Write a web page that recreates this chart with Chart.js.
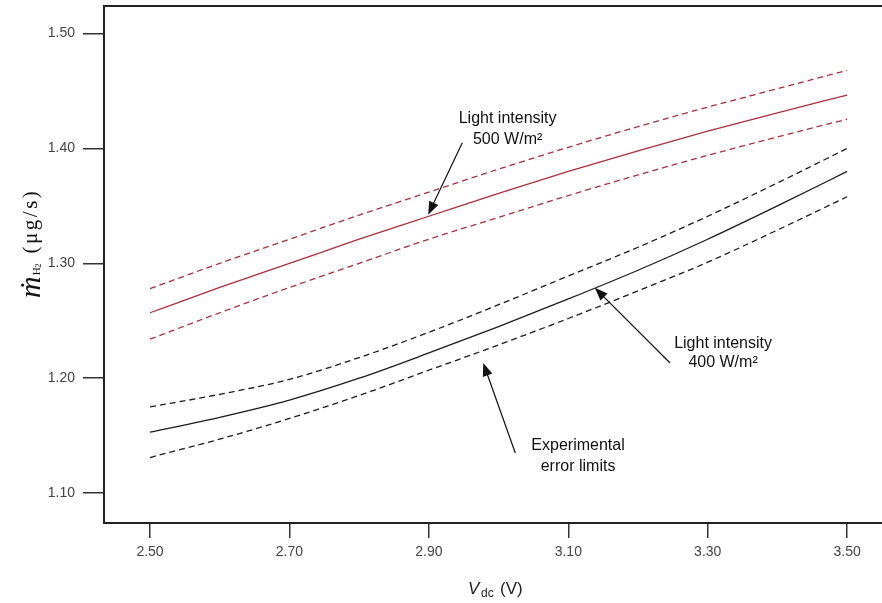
<!DOCTYPE html>
<html>
<head>
<meta charset="utf-8">
<script src="https://cdn.jsdelivr.net/npm/chart.js@4.4.1/dist/chart.umd.min.js"></script>
<style>
    html, body { margin: 0; padding: 0; background: #fff; }
    #wrap { width: 882px; height: 603px; }
</style>
</head>
<body>
<div id="wrap"><canvas id="grafico" width="882" height="603"></canvas></div>
<script>
// Tensión aplicada (V)
const voltages = [2.50, 2.60, 2.70, 2.80, 2.90, 3.00, 3.10, 3.20, 3.30, 3.40, 3.50];

// Intensidad 500 W/m2 (rojo)
const red500Mid   = [1.257, 1.279, 1.300, 1.321, 1.341, 1.361, 1.380, 1.398, 1.415, 1.431, 1.4465];
const red500Upper = [1.278, 1.300, 1.321, 1.342, 1.362, 1.382, 1.401, 1.419, 1.436, 1.452, 1.468];
const red500Lower = [1.234, 1.257, 1.279, 1.300, 1.321, 1.340, 1.359, 1.377, 1.394, 1.410, 1.4255];

// Intensidad 400 W/m2 (negro)
const black400Mid   = [1.153, 1.166, 1.181, 1.200, 1.222, 1.245, 1.269, 1.294, 1.321, 1.350, 1.380];
const black400Upper = [1.175, 1.186, 1.199, 1.218, 1.240, 1.264, 1.289, 1.314, 1.341, 1.370, 1.400];
const black400Lower = [1.131, 1.147, 1.165, 1.185, 1.207, 1.229, 1.252, 1.276, 1.301, 1.329, 1.358];

const xTicks = [2.50, 2.70, 2.90, 3.10, 3.30, 3.50];
const yTicks = [1.10, 1.20, 1.30, 1.40, 1.50];

// Anotaciones en coordenadas de datos
const notes = [
    { lines: ['Light intensity', '500 W/m²'], x: 3.013, y: [1.426, 1.4078], from: [2.948, 1.405], to: [2.899, 1.3424] },
    { lines: ['Light intensity', '400 W/m²'], x: 3.322, y: [1.230, 1.2133], from: [3.246, 1.2133], to: [3.138, 1.2787] },
    { lines: ['Experimental', 'error limits'], x: 3.114, y: [1.1418, 1.1235], from: [3.024, 1.1349], to: [2.978, 1.2133] }
];

const RED = '#ab2f3c';
const BLACK = '#1c1c1c';

function serie(values, color, dashed) {
    return {
        data: voltages.map((v, i) => ({ x: v, y: values[i] })),
        borderColor: color,
        borderWidth: 1.3,
        borderDash: dashed ? [6, 4] : [],
        pointRadius: 0,
        cubicInterpolationMode: 'monotone',
        fill: false
    };
}

function drawArrow(ctx, x1, y1, x2, y2) {
    const ang = Math.atan2(y2 - y1, x2 - x1);
    const len = 13, half = 5;
    ctx.beginPath();
    ctx.moveTo(x1, y1);
    ctx.lineTo(x2 - Math.cos(ang) * len * 0.8, y2 - Math.sin(ang) * len * 0.8);
    ctx.stroke();
    ctx.beginPath();
    ctx.moveTo(x2, y2);
    ctx.lineTo(x2 - Math.cos(ang) * len - Math.sin(ang) * half, y2 - Math.sin(ang) * len + Math.cos(ang) * half);
    ctx.lineTo(x2 - Math.cos(ang) * len + Math.sin(ang) * half, y2 - Math.sin(ang) * len - Math.cos(ang) * half);
    ctx.closePath();
    ctx.fill();
}

const extras = {
    id: 'extras',
    afterDraw(chart) {
        const ctx = chart.ctx;
        const area = chart.chartArea;
        const sx = chart.scales.x, sy = chart.scales.y;

        // borde superior
        ctx.save();
        ctx.strokeStyle = '#222';
        ctx.lineWidth = 2;
        ctx.beginPath();
        ctx.moveTo(area.left - 1, area.top);
        ctx.lineTo(area.right, area.top);
        ctx.stroke();

        // anotaciones
        ctx.fillStyle = '#111';
        ctx.strokeStyle = '#111';
        ctx.lineWidth = 1.2;
        ctx.font = '16px "Liberation Sans", Arial, sans-serif';
        ctx.textAlign = 'center';
        ctx.textBaseline = 'middle';
        notes.forEach(n => {
            n.lines.forEach((t, i) => ctx.fillText(t, sx.getPixelForValue(n.x), sy.getPixelForValue(n.y[i])));
            drawArrow(ctx,
                sx.getPixelForValue(n.from[0]), sy.getPixelForValue(n.from[1]),
                sx.getPixelForValue(n.to[0]), sy.getPixelForValue(n.to[1]));
        });

        // título eje X: V_dc (V)
        ctx.textAlign = 'left';
        ctx.textBaseline = 'alphabetic';
        ctx.fillStyle = '#222';
        ctx.font = 'italic 17px "Liberation Sans", Arial, sans-serif';
        ctx.fillText('V', 468, 594);
        ctx.font = '12px "Liberation Sans", Arial, sans-serif';
        ctx.fillText('dc', 481, 597);
        ctx.font = '17px "Liberation Sans", Arial, sans-serif';
        ctx.fillText('(V)', 500, 594);

        // título eje Y: m-punto H2 (μg/s)
        ctx.translate(40, 298);
        ctx.rotate(-Math.PI / 2);
        ctx.fillStyle = '#111';
        const pieces = [
            { text: 'ṁ', font: 'italic 30px "Liberation Serif", "DejaVu Serif", serif', dy: 0, gap: 1 },
            { text: 'H', font: '11px "Liberation Serif", "DejaVu Serif", serif', dy: 0, gap: 0 },
            { text: '2', font: '8px "Liberation Serif", "DejaVu Serif", serif', dy: 1, gap: 10 },
            { text: '(μg/s)', font: '21px "Liberation Serif", "DejaVu Serif", serif', dy: -3, gap: 0, ls: '2.5px' }
        ];
        let cx = 0;
        pieces.forEach(p => {
            ctx.font = p.font;
            ctx.letterSpacing = p.ls || '0px';
            ctx.fillText(p.text, cx, p.dy);
            cx += ctx.measureText(p.text).width + p.gap;
        });
        ctx.restore();
    }
};

const tickFont = { family: '"Liberation Sans", Arial, sans-serif', size: 14 };

new Chart(document.getElementById('grafico'), {
    type: 'line',
    data: {
        datasets: [
            serie(red500Upper, RED, true),
            serie(red500Mid, RED, false),
            serie(red500Lower, RED, true),
            serie(black400Upper, BLACK, true),
            serie(black400Mid, BLACK, false),
            serie(black400Lower, BLACK, true)
        ]
    },
    options: {
        responsive: false,
        animation: false,
        layout: { padding: { top: 6, right: 0, bottom: 0, left: 0 } },
        plugins: { legend: { display: false }, tooltip: { enabled: false } },
        scales: {
            x: {
                type: 'linear',
                min: 2.434,
                max: 3.55,
                afterBuildTicks: s => { s.ticks = xTicks.map(v => ({ value: v })); },
                afterFit: s => { s.height = 80; s.paddingLeft = 0; s.paddingRight = 0; },
                border: { display: true, color: '#222', width: 2 },
                grid: { drawOnChartArea: false, drawTicks: true, tickLength: 15, tickColor: '#333', lineWidth: 1.5 },
                ticks: { padding: 6, color: '#444', font: tickFont, maxRotation: 0, autoSkip: false, callback: v => v.toFixed(2) }
            },
            y: {
                type: 'linear',
                min: 1.074,
                max: 1.524,
                afterBuildTicks: s => { s.ticks = yTicks.map(v => ({ value: v })); },
                afterFit: s => { s.width = 104; s.paddingTop = 0; s.paddingBottom = 0; },
                border: { display: true, color: '#222', width: 2 },
                grid: { drawOnChartArea: false, drawTicks: true, tickLength: 21, tickColor: '#333', lineWidth: 1.5 },
                ticks: { padding: 8, color: '#444', font: tickFont, autoSkip: false, callback: v => v.toFixed(2) }
            }
        }
    },
    plugins: [extras]
});
</script>
</body>
</html>
